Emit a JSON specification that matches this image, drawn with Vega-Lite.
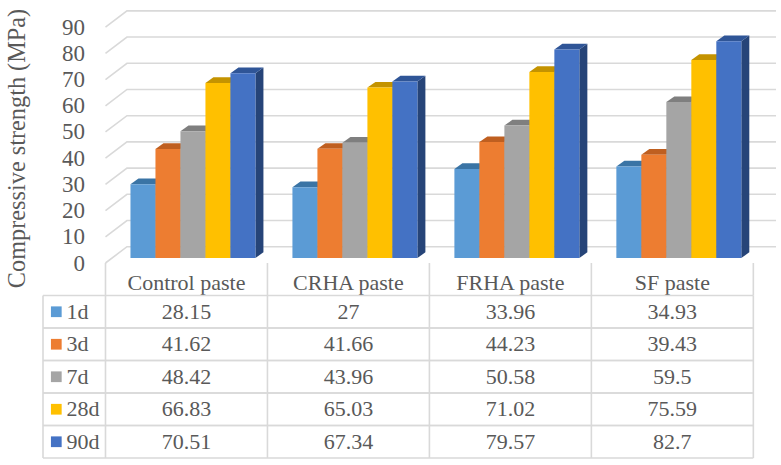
{
"$schema":"https://vega.github.io/schema/vega-lite/v6.json",
"background":"white",
"padding":{"left":5,"top":7.5,"right":0,"bottom":0},
"spacing":0,
"bounds":"flush",
"config":{"view":{"stroke":null},"text":{"font":"Liberation Serif","fontSize":22,"color":"#595959"},
"axisY":{"offset":-62.5,"grid":false,"domain":false,"ticks":false,"labelPadding":21,"labelFont":"Liberation Serif","labelFontSize":23,"labelColor":"#595959","titleFont":"Liberation Serif","titleFontSize":24.3,"titleFontWeight":"normal","titleColor":"#595959","titlePadding":32,"titleY":140.5}},
"datasets":{
"strength":[
{"paste":"Control paste","series":"1d","value":28.15},{"paste":"Control paste","series":"3d","value":41.62},{"paste":"Control paste","series":"7d","value":48.42},{"paste":"Control paste","series":"28d","value":66.83},{"paste":"Control paste","series":"90d","value":70.51},
{"paste":"CRHA paste","series":"1d","value":27},{"paste":"CRHA paste","series":"3d","value":41.66},{"paste":"CRHA paste","series":"7d","value":43.96},{"paste":"CRHA paste","series":"28d","value":65.03},{"paste":"CRHA paste","series":"90d","value":67.34},
{"paste":"FRHA paste","series":"1d","value":33.96},{"paste":"FRHA paste","series":"3d","value":44.23},{"paste":"FRHA paste","series":"7d","value":50.58},{"paste":"FRHA paste","series":"28d","value":71.02},{"paste":"FRHA paste","series":"90d","value":79.57},
{"paste":"SF paste","series":"1d","value":34.93},{"paste":"SF paste","series":"3d","value":39.43},{"paste":"SF paste","series":"7d","value":59.5},{"paste":"SF paste","series":"28d","value":75.59},{"paste":"SF paste","series":"90d","value":82.7}],
"ticks":[{"tick":0},{"tick":10},{"tick":20},{"tick":30},{"tick":40},{"tick":50},{"tick":60},{"tick":70},{"tick":80},{"tick":90}],
"columns":[{"edge":0},{"edge":1},{"edge":2},{"edge":3},{"edge":4}]
},
"vconcat":[
{"width":733,"height":288,
"resolve":{"scale":{"fill":"independent"}},
"layer":[
{"data":{"name":"ticks"},
"transform":[{"calculate":"[0,0.1327,4.14]","as":"xs"},{"calculate":"[datum.tick,datum.tick+6.22,datum.tick+6.22]","as":"ys"},{"flatten":["xs","ys"]}],
"mark":{"type":"line","stroke":"#D9D9D9","strokeWidth":1.6},
"encoding":{
"x":{"field":"xs","type":"quantitative","axis":null,"scale":{"domain":[-0.3858,4.14],"nice":false,"zero":false}},
"y":{"field":"ys","type":"quantitative","title":"Compressive strength (MPa)","scale":{"domain":[-12.4,97.5],"nice":false,"zero":false},"axis":{"values":[0,10,20,30,40,50,60,70,80,90]}},
"detail":{"field":"tick"}}},
{"data":{"name":"columns"},
"mark":{"type":"rule","stroke":"#D9D9D9","strokeWidth":1.6},
"encoding":{
"x":{"field":"edge","type":"quantitative","axis":null,"scale":{"domain":[-0.3858,4.14],"nice":false,"zero":false}},
"y":{"datum":0,"type":"quantitative","title":"Compressive strength (MPa)","axis":{"values":[0,10,20,30,40,50,60,70,80,90]},"scale":{"domain":[-12.4,97.5],"nice":false,"zero":false}},
"y2":{"datum":-12.4}}},
{"data":{"name":"strength"},
"transform":[
{"calculate":"indexof(['Control paste','CRHA paste','FRHA paste','SF paste'],datum.paste)+0.1543+indexof(['1d','3d','7d','28d','90d'],datum.series)*0.1543","as":"x0"},
{"calculate":"[datum.x0+0.1543,datum.x0+0.2037]","as":"xs"},
{"calculate":"[datum.value+1.9,datum.value+4.08]","as":"upper"},
{"calculate":"[1.9,4.08]","as":"lower"},
{"flatten":["xs","upper","lower"]}],
"mark":{"type":"area","interpolate":"linear"},
"encoding":{
"x":{"field":"xs","type":"quantitative","axis":null,"scale":{"domain":[-0.3858,4.14],"nice":false,"zero":false}},
"y":{"field":"upper","type":"quantitative","title":"Compressive strength (MPa)","axis":{"values":[0,10,20,30,40,50,60,70,80,90]},"stack":null,"scale":{"domain":[-12.4,97.5],"nice":false,"zero":false}},
"y2":{"field":"lower"},
"detail":[{"field":"paste"},{"field":"series"}],
"fill":{"field":"series","type":"nominal","legend":null,"scale":{"domain":["1d","3d","7d","28d","90d"],"range":["#2F5F8C","#9C4F1B","#6B6B6B","#A67C00","#264478"]}}}},
{"data":{"name":"strength"},
"transform":[
{"calculate":"indexof(['Control paste','CRHA paste','FRHA paste','SF paste'],datum.paste)+0.1543+indexof(['1d','3d','7d','28d','90d'],datum.series)*0.1543","as":"x0"},
{"calculate":"[datum.x0,datum.x0+0.0494,datum.x0+0.1543,datum.x0+0.2037]","as":"xs"},
{"calculate":"[datum.value+1.9,datum.value+4.08,datum.value+4.08,datum.value+4.08]","as":"upper"},
{"calculate":"[datum.value+1.9,datum.value+1.9,datum.value+1.9,datum.value+4.08]","as":"lower"},
{"flatten":["xs","upper","lower"]}],
"mark":{"type":"area","interpolate":"linear"},
"encoding":{
"x":{"field":"xs","type":"quantitative","axis":null,"scale":{"domain":[-0.3858,4.14],"nice":false,"zero":false}},
"y":{"field":"upper","type":"quantitative","title":"Compressive strength (MPa)","axis":{"values":[0,10,20,30,40,50,60,70,80,90]},"stack":null,"scale":{"domain":[-12.4,97.5],"nice":false,"zero":false}},
"y2":{"field":"lower"},
"detail":[{"field":"paste"},{"field":"series"}],
"fill":{"field":"series","type":"nominal","legend":null,"scale":{"domain":["1d","3d","7d","28d","90d"],"range":["#3A74A5","#BF5F20","#7F7F7F","#C49300","#2F5597"]}}}},
{"data":{"name":"strength"},
"transform":[
{"calculate":"indexof(['Control paste','CRHA paste','FRHA paste','SF paste'],datum.paste)+0.1543+indexof(['1d','3d','7d','28d','90d'],datum.series)*0.1543","as":"x0"},
{"calculate":"datum.x0+0.1543","as":"x1"},
{"calculate":"datum.value+1.9","as":"top"},
{"calculate":"1.9","as":"base"}],
"mark":{"type":"rect"},
"encoding":{
"x":{"field":"x0","type":"quantitative","axis":null,"scale":{"domain":[-0.3858,4.14],"nice":false,"zero":false}},
"x2":{"field":"x1"},
"y":{"field":"top","type":"quantitative","title":"Compressive strength (MPa)","axis":{"values":[0,10,20,30,40,50,60,70,80,90]},"scale":{"domain":[-12.4,97.5],"nice":false,"zero":false}},
"y2":{"field":"base"},
"fill":{"field":"series","type":"nominal","legend":null,"scale":{"domain":["1d","3d","7d","28d","90d"],"range":["#5B9BD5","#ED7D31","#A5A5A5","#FFC000","#4472C4"]}}}},
{"data":{"name":"strength"},
"transform":[{"filter":"datum.series==='1d'"},{"calculate":"indexof(['Control paste','CRHA paste','FRHA paste','SF paste'],datum.paste)+0.5","as":"cx"}],
"mark":{"type":"text","align":"center","baseline":"middle"},
"encoding":{
"x":{"field":"cx","type":"quantitative","axis":null,"scale":{"domain":[-0.3858,4.14],"nice":false,"zero":false}},
"y":{"datum":-7.6,"type":"quantitative","title":"Compressive strength (MPa)","axis":{"values":[0,10,20,30,40,50,60,70,80,90]},"scale":{"domain":[-12.4,97.5],"nice":false,"zero":false}},
"text":{"field":"paste"}}}
]},
{"width":733,"height":162.5,
"layer":[
{"data":{"name":"strength"},"transform":[{"filter":"datum.paste==='Control paste'"}],
"mark":{"type":"rule","stroke":"#D9D9D9","strokeWidth":1.6},
"encoding":{
"x":{"datum":-0.3858,"type":"quantitative","axis":null,"scale":{"domain":[-0.3858,4.14],"nice":false,"zero":false}},
"x2":{"datum":4},
"y":{"field":"series","type":"nominal","bandPosition":0,"axis":null,"scale":{"domain":["1d","3d","7d","28d","90d"],"paddingInner":0,"paddingOuter":0}}}},
{"data":{"name":"strength"},"transform":[{"filter":"datum.paste==='Control paste'"}],
"mark":{"type":"rule","stroke":"#D9D9D9","strokeWidth":1.6},
"encoding":{
"x":{"datum":-0.3858,"type":"quantitative","axis":null,"scale":{"domain":[-0.3858,4.14],"nice":false,"zero":false}},
"x2":{"datum":4},
"y":{"field":"series","type":"nominal","bandPosition":1,"axis":null,"scale":{"domain":["1d","3d","7d","28d","90d"],"paddingInner":0,"paddingOuter":0}}}},
{"data":{"values":[{"edge":-0.3858},{"edge":0},{"edge":1},{"edge":2},{"edge":3},{"edge":4}]},
"mark":{"type":"rule","stroke":"#D9D9D9","strokeWidth":1.6},
"encoding":{
"x":{"field":"edge","type":"quantitative","axis":null,"scale":{"domain":[-0.3858,4.14],"nice":false,"zero":false}}}},
{"data":{"name":"strength"},
"transform":[{"calculate":"indexof(['Control paste','CRHA paste','FRHA paste','SF paste'],datum.paste)+0.5","as":"cx"}],
"mark":{"type":"text","align":"center","baseline":"middle"},
"encoding":{
"x":{"field":"cx","type":"quantitative","axis":null,"scale":{"domain":[-0.3858,4.14],"nice":false,"zero":false}},
"y":{"field":"series","type":"nominal","axis":null,"scale":{"domain":["1d","3d","7d","28d","90d"],"paddingInner":0,"paddingOuter":0}},
"text":{"field":"value","type":"quantitative"}}},
{"data":{"name":"strength"},"transform":[{"filter":"datum.paste==='Control paste'"}],
"mark":{"type":"text","align":"left","baseline":"middle"},
"encoding":{
"x":{"datum":-0.2407,"type":"quantitative","axis":null,"scale":{"domain":[-0.3858,4.14],"nice":false,"zero":false}},
"y":{"field":"series","type":"nominal","axis":null,"scale":{"domain":["1d","3d","7d","28d","90d"],"paddingInner":0,"paddingOuter":0}},
"text":{"field":"series"}}},
{"data":{"name":"strength"},"transform":[{"filter":"datum.paste==='Control paste'"}],
"mark":{"type":"point","shape":"square","filled":true,"size":115,"opacity":1},
"encoding":{
"x":{"datum":-0.3037,"type":"quantitative","axis":null,"scale":{"domain":[-0.3858,4.14],"nice":false,"zero":false}},
"y":{"field":"series","type":"nominal","axis":null,"scale":{"domain":["1d","3d","7d","28d","90d"],"paddingInner":0,"paddingOuter":0}},
"fill":{"field":"series","type":"nominal","legend":null,"scale":{"domain":["1d","3d","7d","28d","90d"],"range":["#5B9BD5","#ED7D31","#A5A5A5","#FFC000","#4472C4"]}}}}
]}
],
"resolve":{"scale":{"fill":"independent","x":"independent","y":"independent"}}
}
